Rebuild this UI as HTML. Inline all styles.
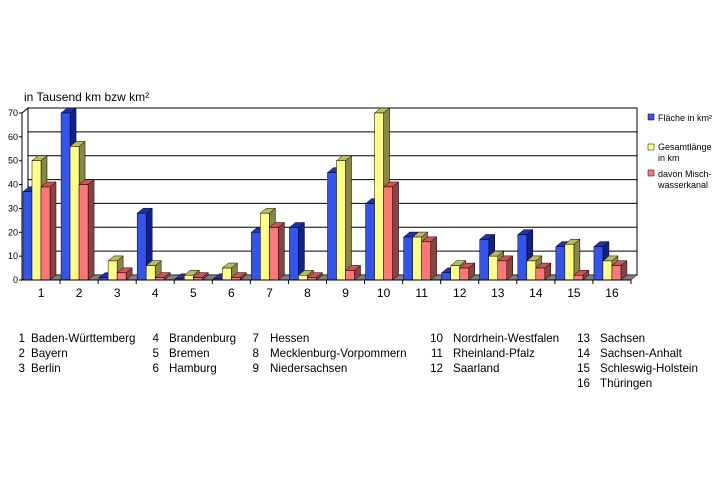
<!DOCTYPE html>
<html><head><meta charset="utf-8"><style>
body{margin:0;background:#fff;}
svg{display:block;font-family:"Liberation Sans",Arial,sans-serif;}
</style></head><body>
<svg id="s" width="720" height="480" xmlns="http://www.w3.org/2000/svg">
<rect width="720" height="480" fill="#fff"/>
<text x="24" y="101" font-size="12">in Tausend km bzw km²</text>
<g id="g"></g>
<g font-size="9">
<rect x="648" y="114" width="6" height="6" fill="#3355ee" stroke="#000" stroke-width="0.5"/>
<text x="658" y="121">Fläche in km²</text>
<rect x="648" y="144" width="6" height="6" fill="#ffff88" stroke="#000" stroke-width="0.5"/>
<text x="658" y="150">Gesamtlänge</text><text x="658" y="161">in  km</text>
<rect x="648" y="170" width="6" height="6" fill="#ff7777" stroke="#000" stroke-width="0.5"/>
<text x="658" y="177">davon Misch-</text><text x="658" y="188">wasserkanal</text>
</g>
<g font-size="11.6">
<text x="25" y="342" text-anchor="end">1</text><text x="31" y="342">Baden-Württemberg</text>
<text x="25" y="357" text-anchor="end">2</text><text x="31" y="357">Bayern</text>
<text x="25" y="372" text-anchor="end">3</text><text x="31" y="372">Berlin</text>
<text x="159" y="342" text-anchor="end">4</text><text x="169" y="342">Brandenburg</text>
<text x="159" y="357" text-anchor="end">5</text><text x="169" y="357">Bremen</text>
<text x="159" y="372" text-anchor="end">6</text><text x="169" y="372">Hamburg</text>
<text x="259" y="342" text-anchor="end">7</text><text x="270" y="342">Hessen</text>
<text x="259" y="357" text-anchor="end">8</text><text x="270" y="357">Mecklenburg-Vorpommern</text>
<text x="259" y="372" text-anchor="end">9</text><text x="270" y="372">Niedersachsen</text>
<text x="443" y="342" text-anchor="end">10</text><text x="453" y="342">Nordrhein-Westfalen</text>
<text x="443" y="357" text-anchor="end">11</text><text x="453" y="357">Rheinland-Pfalz</text>
<text x="443" y="372" text-anchor="end">12</text><text x="453" y="372">Saarland</text>
<text x="590" y="342" text-anchor="end">13</text><text x="600" y="342">Sachsen</text>
<text x="590" y="357" text-anchor="end">14</text><text x="600" y="357">Sachsen-Anhalt</text>
<text x="590" y="372" text-anchor="end">15</text><text x="600" y="372">Schleswig-Holstein</text>
<text x="590" y="387" text-anchor="end">16</text><text x="600" y="387">Thüringen</text>
</g>
</svg>
<script>
var g=document.getElementById('g'),h='';
var X0=22,X1=631,Y0=280,DX=6,DY=-5,S=(280-113)/70;
h+='<rect x="'+(X0+DX)+'" y="'+(Y0+DY-70*S)+'" width="'+(X1-X0)+'" height="'+(70*S)+'" fill="#fff" stroke="#000" stroke-width="1"/>';
for(var v=10;v<=70;v+=10){var y=Y0+DY-v*S;h+='<line x1="'+(X0+DX)+'" y1="'+y+'" x2="'+(X1+DX)+'" y2="'+y+'" stroke="#000" stroke-width="1"/>';
}
h+='<polygon points="'+X0+','+Y0+' '+(X0+DX)+','+(Y0+DY)+' '+(X0+DX)+','+(Y0+DY-70*S)+' '+X0+','+(Y0-70*S)+'" fill="#fff" stroke="#000"/>';
h+='<polygon points="'+X0+','+Y0+' '+X1+','+Y0+' '+(X1+DX)+','+(Y0+DY)+' '+(X0+DX)+','+(Y0+DY)+'" fill="#808080" stroke="#000" stroke-width="0.5"/>';
for(var v=0;v<=70;v+=10){var y=Y0-v*S;h+='<line x1="'+(X0-3)+'" y1="'+y+'" x2="'+X0+'" y2="'+y+'" stroke="#000"/><text x="'+(X0-4)+'" y="'+(y+3)+'" font-size="9" text-anchor="end">'+v+'</text>';}
var d=[[37,50,39],[70,56,40],[1,8,3],[28,6,1],[0.5,2,1],[0.5,5,1],[20,28,22],[22,2,1],[45,50,4],[32,70,39],[18,18,16],[3,6,5],[17,10,8],[19,8,5],[14,15,2],[14,8,6]];
var cols=[['#3355ee','#2233aa','#112288'],['#ffff88','#bbbb66','#888844'],['#ff7777','#cc5555','#884444']];
var sp=(X1-X0)/16;
for(var i=0;i<16;i++){
 var bx=X0+1+sp*i;
 for(var k=0;k<3;k++){
  var x=bx+k*9,w=9,hh=d[i][k]*S,yt=Y0-hh,c=cols[k];
  h+='<polygon points="'+(x+w)+','+Y0+' '+(x+w+DX)+','+(Y0+DY)+' '+(x+w+DX)+','+(yt+DY)+' '+(x+w)+','+yt+'" fill="'+c[2]+'" stroke="#000" stroke-width="0.5"/>';
  h+='<polygon points="'+x+','+yt+' '+(x+DX)+','+(yt+DY)+' '+(x+w+DX)+','+(yt+DY)+' '+(x+w)+','+yt+'" fill="'+c[1]+'" stroke="#000" stroke-width="0.5"/>';
  h+='<rect x="'+x+'" y="'+yt+'" width="'+w+'" height="'+hh+'" fill="'+c[0]+'" stroke="#000" stroke-width="0.5"/>';
 }
 var tx=X0+sp*(i+1);
 h+='<line x1="'+tx+'" y1="'+Y0+'" x2="'+tx+'" y2="'+(Y0+4)+'" stroke="#000"/>';
 h+='<text x="'+(X0+sp*(i+0.5))+'" y="297" font-size="12" text-anchor="middle">'+(i+1)+'</text>';
}
h+='<line x1="'+X0+'" y1="'+Y0+'" x2="'+X1+'" y2="'+Y0+'" stroke="#000"/>';
g.innerHTML=h;
</script>
</body></html>
